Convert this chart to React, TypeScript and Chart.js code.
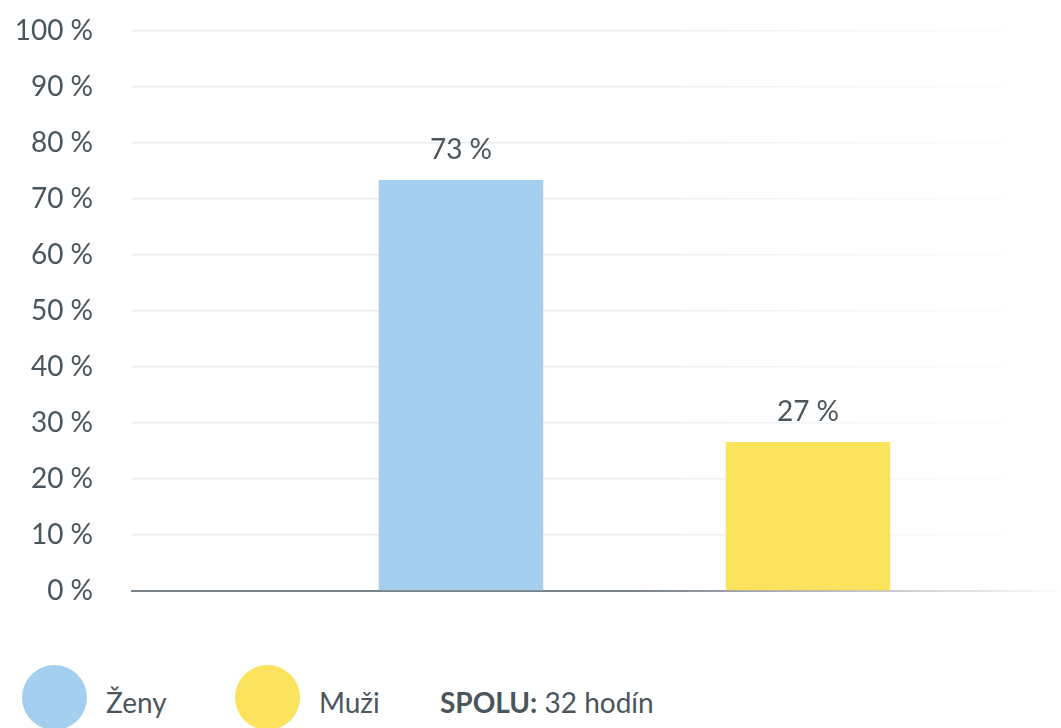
import React, { useEffect, useRef } from "react";
import { Chart, registerables } from "chart.js";

Chart.register(...registerables);

const seriesNames = ["Ženy", "Muži"];
const seriesValues = [73.4, 26.6];
const seriesColors = ["#a5cfee", "#fbe35e"];
const yMin = 0;
const yMax = 100;
const yStep = 10;
const totalLabel = "SPOLU:";
const totalValue = "32 hodín";

const TEXT = "#4a555c";
const FONT = "Lato, 'Noto Sans', sans-serif";

const valueLabels = {
  id: "valueLabels",
  afterDatasetsDraw(chart: any) {
    const ctx = chart.ctx;
    ctx.save();
    ctx.font = `28px ${FONT}`;
    ctx.fillStyle = TEXT;
    ctx.textAlign = "center";
    ctx.textBaseline = "middle";
    chart.data.datasets.forEach((ds: any, i: number) => {
      const meta = chart.getDatasetMeta(i);
      meta.data.forEach((el: any, j: number) => {
        const v = ds.data[j];
        ctx.fillText(`${Math.round(v)} %`, el.x, el.y - 30);
      });
    });
    ctx.restore();
  },
};

export default function App() {
  const ref = useRef<HTMLCanvasElement | null>(null);

  useEffect(() => {
    const canvas = ref.current!;
    const c2d = canvas.getContext("2d")!;
    const fade = (from: string, to: string) => {
      const g = c2d.createLinearGradient(620, 0, 1065, 0);
      g.addColorStop(0, from);
      g.addColorStop(1, to);
      return g;
    };
    const gridGrad = fade("rgba(233,236,239,1)", "rgba(233,236,239,0)");
    const axisGrad = fade("rgba(70,80,88,0.7)", "rgba(70,80,88,0)");
    const chart = new Chart(canvas, {
      type: "bar",
      data: {
        labels: [""],
        datasets: seriesNames.map((name, i) => ({
          label: name,
          data: [seriesValues[i]],
          backgroundColor: seriesColors[i],
          borderWidth: 0,
          categoryPercentage: 0.6906,
          barPercentage: 0.474,
        })),
      },
      options: {
        animation: false,
        responsive: false,
        maintainAspectRatio: false,
        layout: { padding: { top: 31, bottom: 29, left: 0, right: 0 } },
        plugins: {
          legend: { display: false },
          tooltip: { enabled: false },
        },
        scales: {
          x: {
            display: true,
            z: 1,
            grid: { display: false, drawTicks: false },
            ticks: { display: false },
            border: { display: true, color: axisGrad as any, width: 2 },
          },
          y: {
            min: yMin,
            max: yMax,
            afterFit(scale: any) {
              scale.width = 132;
            },
            ticks: {
              stepSize: yStep,
              padding: 0,
              color: TEXT,
              font: { family: FONT, size: 28 },
              callback: (v: any) => `${v} %`,
            },
            border: { display: false },
            grid: {
              drawTicks: true,
              tickLength: 39,
              tickColor: "rgba(0,0,0,0)",
              color: gridGrad as any,
              lineWidth: 1.5,
            },
          },
        },
      },
      plugins: [valueLabels],
    });
    return () => chart.destroy();
  }, []);

  const legendText: React.CSSProperties = {
    position: "absolute",
    top: 702,
    transform: "translateY(-50%)",
    fontFamily: FONT,
    fontSize: 28,
    color: TEXT,
    whiteSpace: "nowrap",
    lineHeight: 1,
  };
  const circle = (left: number, color: string): React.CSSProperties => ({
    position: "absolute",
    left,
    top: 665,
    width: 65,
    height: 65,
    borderRadius: "50%",
    background: color,
  });

  return (
    <div
      style={{
        position: "fixed",
        left: 0,
        top: 0,
        width: 1061,
        height: 728,
        overflow: "hidden",
        background: "#ffffff",
      }}
    >
      <canvas ref={ref} width={1137} height={620} style={{ position: "absolute", left: 0, top: 0, width: 1137, height: 620 }} />
      <div style={circle(22, seriesColors[0])} />
      <div style={{ ...legendText, left: 106 }}>{seriesNames[0]}</div>
      <div style={circle(235, seriesColors[1])} />
      <div style={{ ...legendText, left: 319 }}>{seriesNames[1]}</div>
      <div style={{ ...legendText, left: 440 }}>
        <b style={{ fontWeight: 700 }}>{totalLabel}</b> {totalValue}
      </div>
    </div>
  );
}
